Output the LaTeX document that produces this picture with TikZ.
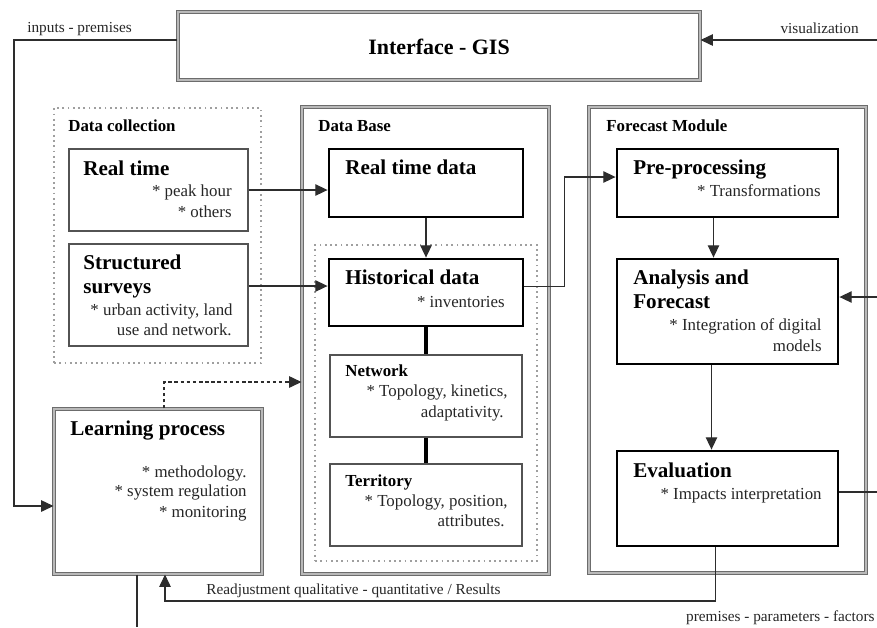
\documentclass[tikz,border=0pt]{standalone}
\usepackage{fontspec}
\setmainfont{Liberation Serif}
\usetikzlibrary{arrows.meta,fit,calc}

\tikzset{
  groupbox/.style={draw=gray!85!black, double=gray!55, double distance=0.6pt, line width=0.6pt, inner sep=0pt},
  boldbox/.style={draw=black, line width=1.6pt, inner sep=0pt},
  thinbox/.style={draw=gray!65!black, line width=0.8pt, inner sep=0pt},
  dotbox/.style={draw=gray!75, dotted, line width=1pt, inner sep=0pt},
  flow/.style={draw=gray!35!black, line width=0.7pt, -{Triangle[length=7pt,width=6.5pt]}},
  link/.style={draw=gray!35!black, line width=0.7pt},
  thickline/.style={draw=black, line width=1.8pt},
  txt/.style={inner sep=0pt, text height=6.7pt, text depth=1.9pt, text=black!85, font=\fontsize{9.6}{11}\selectfont},
  ttl/.style={inner sep=0pt, text height=8.4pt, text depth=2.4pt, text=black, font=\fontsize{12}{14}\selectfont\bfseries},
  sttl/.style={txt, text=black, font=\fontsize{9.6}{11}\selectfont\bfseries},
  lbl/.style={txt, font=\fontsize{8.7}{10}\selectfont},
}

\begin{document}
\begin{tikzpicture}[x=0.02cm, y=-0.02cm]

	\useasboundingbox (0,0) rectangle (877,627);

	%Interface
	\node [groupbox, fit={(178,12) (700,80)}] (interface) {};
	\node [ttl, font=\fontsize{12.5}{15}\selectfont\bfseries] (interface-t) at (439,49) {Interface - GIS};

	%Data collection
	\node [dotbox, fit={(54,108) (261,363)}] (collect) {};
	\node [sttl, anchor=west] (collect-t) at (68,127) {Data collection};

	\node [thinbox, fit={(69,149) (248,231)}] (rt) {};
	\node [ttl, anchor=west] (rt-t) at (83,170) {Real time};
	\node [txt, anchor=east] (rt-1) at (232,192) {* peak hour};
	\node [txt, anchor=east] (rt-2) at (232,213) {* others};

	\node [thinbox, fit={(69,244) (248,346)}] (surveys) {};
	\node [ttl, anchor=west] (surveys-t1) at (83,264) {Structured};
	\node [ttl, anchor=west] (surveys-t2) at (83,288) {surveys};
	\node [txt, anchor=east] (surveys-1) at (233,311) {* urban activity, land};
	\node [txt, anchor=east] (surveys-2) at (232,331) {use and network.};

	%Learning process
	\node [groupbox, fit={(54,409) (262,574)}] (learn) {};
	\node [ttl, anchor=west] (learn-t) at (70,430) {Learning process};
	\node [txt, anchor=east] (learn-1) at (247,473) {* methodology.};
	\node [txt, anchor=east] (learn-2) at (247,492) {* system regulation};
	\node [txt, anchor=east] (learn-3) at (247,513) {* monitoring};

	%Data Base
	\node [groupbox, fit={(302,107) (549,574)}] (db) {};
	\node [sttl, anchor=west] (db-t) at (318,127) {Data Base};

	\node [boldbox, fit={(329,149) (523,217)}] (rtdata) {};
	\node [ttl, anchor=west] (rtdata-t) at (345,169) {Real time data};

	\node [dotbox, fit={(315,245) (537,561)}] (dbinner) {};

	\node [boldbox, fit={(329,259) (523,326)}] (hist) {};
	\node [ttl, anchor=west] (hist-t) at (345,279) {Historical data};
	\node [txt, anchor=east] (hist-1) at (505,303) {* inventories};

	\node [thinbox, fit={(330,355) (522,437)}] (net) {};
	\node [sttl, anchor=west] (net-t) at (345,372) {Network};
	\node [txt, anchor=east] (net-1) at (508,392) {* Topology, kinetics,};
	\node [txt, anchor=east] (net-2) at (504,413) {adaptativity.};

	\node [thinbox, fit={(330,464) (522,546)}] (terr) {};
	\node [sttl, anchor=west] (terr-t) at (345,482) {Territory};
	\node [txt, anchor=east] (terr-1) at (508,502) {* Topology, position,};
	\node [txt, anchor=east] (terr-2) at (505,522) {attributes.};

	%Forecast Module
	\node [groupbox, fit={(589,107) (866,573)}] (fm) {};
	\node [sttl, anchor=west] (fm-t) at (606,127) {Forecast Module};

	\node [boldbox, fit={(617,149) (838,217)}] (prep) {};
	\node [ttl, anchor=west] (prep-t) at (633,169) {Pre-processing};
	\node [txt, anchor=east] (prep-1) at (821,192) {* Transformations};

	\node [boldbox, fit={(617,259) (838,364)}] (anal) {};
	\node [ttl, anchor=west] (anal-t1) at (633,279) {Analysis and};
	\node [ttl, anchor=west] (anal-t2) at (633,303) {Forecast};
	\node [txt, anchor=east] (anal-1) at (822,326) {* Integration of digital};
	\node [txt, anchor=east] (anal-2) at (822,347) {models};

	\node [boldbox, fit={(617,451) (838,546)}] (eval) {};
	\node [ttl, anchor=west] (eval-t) at (633,472) {Evaluation};
	\node [txt, anchor=east] (eval-1) at (822,495) {* Impacts interpretation};

	%Freie Enden
	\coordinate (inl) at (14,40);
	\coordinate (inlow) at (14,506);
	\coordinate (vis) at (877,40);
	\coordinate (fb) at (877,297);
	\coordinate (evr) at (877,492);
	\coordinate (rdj) at (165,601);
	\coordinate (ldown) at (137,627);
	\coordinate (dl) at (164,382);

	%Verbindungen
	\draw [flow] (interface.west |- inl) -- (inl) -- (inlow) -- (learn.west |- inlow);
	\draw [flow] (vis) -- (interface.east |- vis);
	\draw [flow] (rt.east) -- (rt.east -| rtdata.west);
	\draw [flow] ($(surveys.east)+(0,-9)$) coordinate (s1) -- (s1 -| hist.west);
	\draw [flow] (rtdata.south) -- (hist.north);
	\draw [flow] ($(hist.east)+(0,-6)$) coordinate (h1) -- ($(h1)+(40,0)$) |- ($(prep.west)+(0,-6)$);
	\draw [thickline] (hist.south) -- (net.north);
	\draw [thickline] (net.south) -- (terr.north);
	\draw [flow] ($(prep.south)+(-14,0)$) coordinate (p1) -- (p1 |- anal.north);
	\draw [flow] ($(anal.south)+(-16,0)$) coordinate (a1) -- (a1 |- eval.north);
	\draw [flow] (fb) -- (fb -| anal.east);
	\draw [link] (evr -| eval.east) -- (evr);
	\draw [flow] ($(eval.south)+(-12,0)$) coordinate (e1) |- (rdj) -- (rdj |- learn.south);
	\draw [link] (ldown |- learn.south) -- (ldown);
	\draw [flow, dash pattern=on 2pt off 1.5pt] (dl |- learn.north) -- (dl) -- (dl -| db.west);

	%Beschriftungen
	\node [lbl, anchor=west] (l-in) at (27,28) {inputs - premises};
	\node [lbl, anchor=east] (l-vis) at (859,29) {visualization};
	\node [lbl, anchor=west] (l-rdj) at (206,590) {Readjustment qualitative - quantitative / Results};
	\node [lbl, anchor=east] (l-par) at (875,617) {premises - parameters - factors};

\end{tikzpicture}
\end{document}
